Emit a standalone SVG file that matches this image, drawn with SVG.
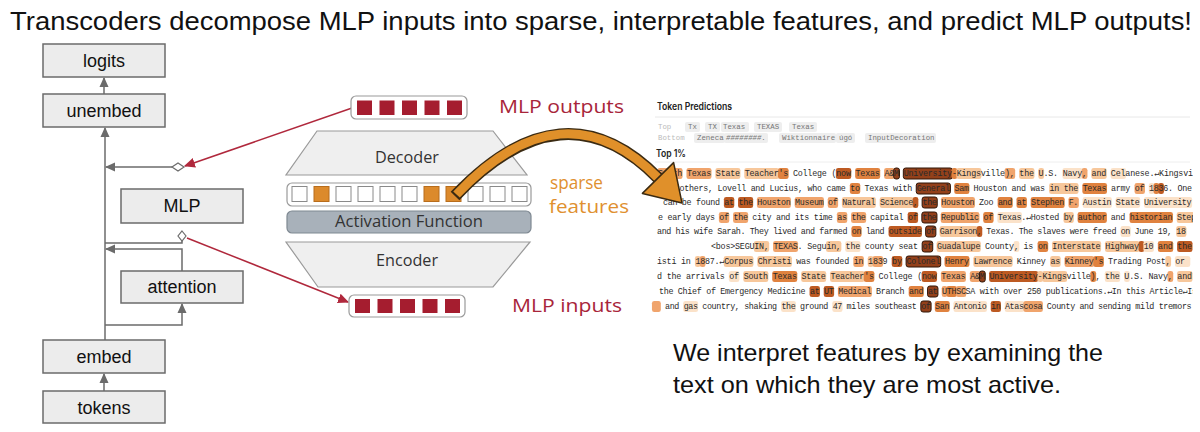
<svg xmlns="http://www.w3.org/2000/svg" width="1200" height="432" viewBox="0 0 1200 432">
<style>
.box{fill:#ececec;stroke:#6b6b6b;stroke-width:1.5}
.lbl{font-family:"Liberation Sans",Arial,sans-serif;font-size:18px;fill:#111;text-anchor:middle}
.con{fill:none;stroke:#6b6b6b;stroke-width:1.5}
.red{fill:none;stroke:#b0283c;stroke-width:1.5}
.dia{fill:#fff;stroke:#6b6b6b;stroke-width:1.2}
.vec{fill:#fff;stroke:#9a9a9a;stroke-width:1.2}
.sq{fill:#a51d2f}
.ws{fill:#fff;stroke:#8a8a8a;stroke-width:1}
.os{fill:#dc8a2c;stroke:#b86d1c;stroke-width:1}
.trap{fill:#efefef;stroke:#9a9a9a;stroke-width:1.2}
.tc{font-family:"Open Sans","Liberation Sans",sans-serif;font-size:16px;fill:#333;text-anchor:middle}
.redt{font-family:"Open Sans","Liberation Sans",sans-serif;font-size:19px;fill:#a8253a}
.ort{font-family:"Open Sans","Liberation Sans",sans-serif;font-size:19px;fill:#e0902f}
.mono{font-family:"Liberation Mono","DejaVu Sans Mono",monospace;font-size:8.4px;fill:#2a2a2a}
.sm{font-family:"Liberation Mono","DejaVu Sans Mono",monospace;font-size:7.4px;fill:#777}
.smg{font-family:"Liberation Mono","DejaVu Sans Mono",monospace;font-size:7.4px;fill:#bbb}
.pill{fill:#eeeeee}
.hd{font-family:Inter,"Liberation Sans",sans-serif;font-size:10px;font-weight:600;fill:#222}
.big{font-family:"Liberation Sans",Arial,sans-serif;font-size:24px;fill:#111}
.h1{fill:#fbe2c9}.h2{fill:#f7c79b}.h3{fill:#f0a46c}.h4{fill:#e0823f}.h5{fill:#bd5a22}
.h6{fill:#93401a;stroke:#2e1406;stroke-width:1;vector-effect:non-scaling-stroke}
</style>
<defs>
<marker id="ag" viewBox="0 0 10 10" refX="9" refY="5" markerWidth="10" markerHeight="10" markerUnits="userSpaceOnUse" orient="auto"><path d="M0,0.5 L10,5 L0,9.5 z" fill="#6b6b6b"/></marker>
<marker id="ar" viewBox="0 0 10 10" refX="9" refY="5" markerWidth="11" markerHeight="11" markerUnits="userSpaceOnUse" orient="auto"><path d="M0,0.5 L10,5 L0,9.5 z" fill="#b0283c"/></marker>
<clipPath id="pc"><rect x="645" y="95" width="548" height="225"/></clipPath>
</defs>

<text x="10" y="30" font-family="Liberation Sans, Arial, sans-serif" font-size="26" fill="#111" textLength="1182" lengthAdjust="spacingAndGlyphs">Transcoders decompose MLP inputs into sparse, interpretable features, and predict MLP outputs!</text>

<g id="connectors">
<line class="con" x1="104" y1="391" x2="104" y2="374" marker-end="url(#ag)"/>
<line class="con" x1="104" y1="94" x2="104" y2="78" marker-end="url(#ag)"/>
<line class="con" x1="105" y1="340" x2="105" y2="128" marker-end="url(#ag)"/>
<line class="con" x1="172" y1="167" x2="106" y2="167" marker-end="url(#ag)"/>
<path class="con" d="M105,243 H182 V241"/>
<path class="con" d="M182,271 V249 H106" marker-end="url(#ag)"/>
<path class="con" d="M105,325 H182 V304" marker-end="url(#ag)"/>
<line class="red" x1="352" y1="108" x2="185" y2="166" marker-end="url(#ar)"/>
<line class="red" x1="187" y1="238" x2="348" y2="302" marker-end="url(#ar)"/>
<path class="dia" d="M172,167 L178,163 L184,167 L178,171 z"/>
<path class="dia" d="M182,231 L186,236 L182,241 L178,236 z"/>
</g>

<g id="logits"><rect class="box" x="43" y="44" width="122" height="33"/><text class="lbl" x="104" y="67">logits</text></g>
<g id="unembed"><rect class="box" x="43" y="94" width="122" height="33"/><text class="lbl" x="104" y="117">unembed</text></g>
<g id="mlp"><rect class="box" x="121" y="189" width="122" height="34"/><text class="lbl" x="182" y="212">MLP</text></g>
<g id="attention"><rect class="box" x="121" y="271" width="122" height="32"/><text class="lbl" x="182" y="293">attention</text></g>
<g id="embed"><rect class="box" x="43" y="340" width="122" height="33"/><text class="lbl" x="104" y="363">embed</text></g>
<g id="tokens"><rect class="box" x="43" y="391" width="122" height="32"/><text class="lbl" x="104" y="414">tokens</text></g>

<g id="mlp-outputs">
<rect class="vec" x="351" y="96" width="116" height="23" rx="5"/>
<rect class="sq" x="357" y="100.5" width="15" height="14.5"/><rect class="sq" x="379.5" y="100.5" width="15" height="14.5"/><rect class="sq" x="402" y="100.5" width="15" height="14.5"/><rect class="sq" x="424.5" y="100.5" width="15" height="14.5"/><rect class="sq" x="447" y="100.5" width="15" height="14.5"/>
<text class="redt" x="499" y="113" textLength="125" lengthAdjust="spacingAndGlyphs">MLP outputs</text>
</g>
<g id="decoder">
<polygon class="trap" points="317,131 493,131 527,175 286,175"/>
<text class="tc" x="407" y="163" textLength="64" lengthAdjust="spacingAndGlyphs">Decoder</text>
</g>
<g id="features">
<rect class="vec" x="287" y="183" width="244" height="23" rx="5"/>
<rect class="ws" x="292" y="186.5" width="15" height="15"/><rect class="os" x="314" y="186.5" width="15" height="15"/><rect class="ws" x="336" y="186.5" width="15" height="15"/><rect class="ws" x="358" y="186.5" width="15" height="15"/><rect class="ws" x="380" y="186.5" width="15" height="15"/><rect class="ws" x="402" y="186.5" width="15" height="15"/><rect class="os" x="424" y="186.5" width="15" height="15"/><rect class="os" x="446" y="186.5" width="15" height="15"/><rect class="ws" x="468" y="186.5" width="15" height="15"/><rect class="ws" x="490" y="186.5" width="15" height="15"/><rect class="ws" x="512" y="186.5" width="15" height="15"/>
<text class="ort" x="550" y="189" textLength="53" lengthAdjust="spacingAndGlyphs">sparse</text>
<text class="ort" x="549" y="213" textLength="80" lengthAdjust="spacingAndGlyphs">features</text>
</g>
<g id="activation">
<rect x="287" y="211" width="244" height="22" rx="5" fill="#a8b1ba" stroke="#7f8992" stroke-width="1.2"/>
<text class="tc" x="409" y="227" font-size="15" textLength="148" lengthAdjust="spacingAndGlyphs">Activation Function</text>
</g>
<g id="encoder">
<polygon class="trap" points="286,242 530,242 493,287 318,287"/>
<text class="tc" x="407" y="266" textLength="62" lengthAdjust="spacingAndGlyphs">Encoder</text>
</g>
<g id="mlp-inputs">
<rect class="vec" x="349" y="295" width="116" height="22" rx="5"/>
<rect class="sq" x="355" y="299" width="15" height="14"/><rect class="sq" x="377.5" y="299" width="15" height="14"/><rect class="sq" x="400" y="299" width="15" height="14"/><rect class="sq" x="422.5" y="299" width="15" height="14"/><rect class="sq" x="445" y="299" width="15" height="14"/>
<text class="redt" x="512" y="312" textLength="110" lengthAdjust="spacingAndGlyphs">MLP inputs</text>
</g>

<g id="token-panel" clip-path="url(#pc)">
<text class="hd" x="657" y="110" textLength="75" lengthAdjust="spacingAndGlyphs">Token Predictions</text>
<line x1="655" y1="117" x2="1190" y2="117" stroke="#e8e8e8" stroke-width="1"/>
<text class="smg" x="658" y="129">Top</text>
<rect class="pill" x="685" y="122" width="15" height="10" rx="2"/><text class="sm" x="688" y="129">Tx</text>
<rect class="pill" x="705" y="122" width="15" height="10" rx="2"/><text class="sm" x="708" y="129">TX</text>
<rect class="pill" x="721" y="122" width="28" height="10" rx="2"/><text class="sm" x="723" y="129">Texas</text>
<rect class="pill" x="754" y="122" width="28" height="10" rx="2"/><text class="sm" x="757" y="129">TEXAS</text>
<rect class="pill" x="789" y="122" width="28" height="10" rx="2"/><text class="sm" x="792" y="129">Texas</text>
<text class="smg" x="658" y="140">Bottom</text>
<rect class="pill" x="694" y="133" width="31" height="10" rx="2"/><text class="sm" x="697" y="140">Zeneca</text>
<rect class="pill" x="724" y="133" width="44" height="10" rx="2"/><text class="sm" x="726" y="140" font-style="italic">########.</text>
<rect class="pill" x="779" y="133" width="57" height="10" rx="2"/><text class="sm" x="782" y="140">Wiktionnaire</text>
<rect class="pill" x="836" y="133" width="19" height="10" rx="2"/><text class="sm" x="839" y="140">úgó</text>
<rect class="pill" x="865" y="133" width="71" height="10" rx="2"/><text class="sm" x="868" y="140">InputDecoration</text>
<text class="hd" x="656" y="157" textLength="30" lengthAdjust="spacingAndGlyphs">Top 1%</text>
<line x1="655" y1="162" x2="1190" y2="162" stroke="#eeeeee" stroke-width="1"/>

<g transform="translate(658,176) scale(4.82,1)">
<rect class="h3" x="-0.1" y="-8" width="5.2" height="11" rx="0.5" ry="2.2"/><rect class="h3" x="5.9" y="-8" width="5.2" height="11" rx="0.5" ry="2.2"/><rect class="h2" x="11.9" y="-8" width="5.2" height="11" rx="0.5" ry="2.2"/><rect class="h2" x="17.9" y="-8" width="7.2" height="11" rx="0.5" ry="2.2"/><rect class="h4" x="24.9" y="-8" width="2.2" height="11" rx="0.5" ry="2.2"/><rect class="h5" x="36.9" y="-8" width="3.2" height="11" rx="0.5" ry="2.2"/><rect class="h4" x="40.9" y="-8" width="5.2" height="11" rx="0.5" ry="2.2"/><rect class="h3" x="46.9" y="-8" width="2.2" height="11" rx="0.5" ry="2.2"/><rect class="h6" x="48.9" y="-8" width="1.2" height="11" rx="0.5" ry="2.2"/><rect class="h6" x="50.9" y="-8" width="10.2" height="11" rx="0.5" ry="2.2"/><rect class="h4" x="60.9" y="-8" width="1.2" height="11" rx="0.5" ry="2.2"/><rect class="h2" x="61.9" y="-8" width="5.2" height="11" rx="0.5" ry="2.2"/><rect class="h3" x="71.9" y="-8" width="2.2" height="11" rx="0.5" ry="2.2"/><rect class="h2" x="74.9" y="-8" width="3.2" height="11" rx="0.5" ry="2.2"/><rect class="h2" x="78.9" y="-8" width="1.2" height="11" rx="0.5" ry="2.2"/><rect class="h1" x="83.9" y="-8" width="4.2" height="11" rx="0.5" ry="2.2"/><rect class="h3" x="87.9" y="-8" width="1.2" height="11" rx="0.5" ry="2.2"/><rect class="h2" x="89.9" y="-8" width="3.2" height="11" rx="0.5" ry="2.2"/><rect class="h1" x="93.9" y="-8" width="3.2" height="11" rx="0.5" ry="2.2"/>
</g>
<text class="mono" x="658" y="176" textLength="535" lengthAdjust="spacing">South Texas State Teacher's College (now Texas A&amp;M University-Kingsville), the U.S. Navy, and Celanese.↵Kingsvi</text>

<g transform="translate(670,191) scale(4.745,1)">
<rect class="h4" x="37.9" y="-8" width="2.2" height="11" rx="0.5" ry="2.2"/><rect class="h6" x="51.9" y="-8" width="7.2" height="11" rx="0.5" ry="2.2"/><rect class="h4" x="59.9" y="-8" width="3.2" height="11" rx="0.5" ry="2.2"/><rect class="h2" x="79.9" y="-8" width="6.2" height="11" rx="0.5" ry="2.2"/><rect class="h4" x="86.9" y="-8" width="5.2" height="11" rx="0.5" ry="2.2"/><rect class="h3" x="97.9" y="-8" width="2.2" height="11" rx="0.5" ry="2.2"/><rect class="h1" x="100.9" y="-8" width="1.2" height="11" rx="0.5" ry="2.2"/><rect class="h4" x="101.9" y="-8" width="1.2" height="11" rx="0.5" ry="2.2"/><rect class="h5" x="102.9" y="-8" width="1.2" height="11" rx="0.5" ry="2.2"/>
</g>
<text class="mono" x="670" y="191" textLength="522" lengthAdjust="spacing">brothers, Lovell and Lucius, who came to Texas with General Sam Houston and was in the Texas army of 1836. One</text>

<g transform="translate(663,205) scale(4.72,1)">
<rect class="h5" x="12.9" y="-8" width="2.2" height="11" rx="0.5" ry="2.2"/><rect class="h5" x="15.9" y="-8" width="3.2" height="11" rx="0.5" ry="2.2"/><rect class="h3" x="19.9" y="-8" width="7.2" height="11" rx="0.5" ry="2.2"/><rect class="h3" x="27.9" y="-8" width="6.2" height="11" rx="0.5" ry="2.2"/><rect class="h3" x="34.9" y="-8" width="2.2" height="11" rx="0.5" ry="2.2"/><rect class="h2" x="37.9" y="-8" width="7.2" height="11" rx="0.5" ry="2.2"/><rect class="h2" x="45.9" y="-8" width="7.2" height="11" rx="0.5" ry="2.2"/><rect class="h5" x="52.9" y="-8" width="1.2" height="11" rx="0.5" ry="2.2"/><rect class="h6" x="54.9" y="-8" width="3.2" height="11" rx="0.5" ry="2.2"/><rect class="h3" x="58.9" y="-8" width="7.2" height="11" rx="0.5" ry="2.2"/><rect class="h4" x="70.9" y="-8" width="3.2" height="11" rx="0.5" ry="2.2"/><rect class="h4" x="74.9" y="-8" width="2.2" height="11" rx="0.5" ry="2.2"/><rect class="h4" x="77.9" y="-8" width="7.2" height="11" rx="0.5" ry="2.2"/><rect class="h3" x="85.9" y="-8" width="2.2" height="11" rx="0.5" ry="2.2"/><rect class="h1" x="88.9" y="-8" width="6.2" height="11" rx="0.5" ry="2.2"/><rect class="h1" x="95.9" y="-8" width="5.2" height="11" rx="0.5" ry="2.2"/><rect class="h1" x="101.9" y="-8" width="10.2" height="11" rx="0.5" ry="2.2"/>
</g>
<text class="mono" x="663" y="205" textLength="528.6" lengthAdjust="spacing">can be found at the Houston Museum of Natural Science, the Houston Zoo and at Stephen F. Austin State University</text>

<g transform="translate(658,220) scale(4.72,1)">
<rect class="h3" x="12.9" y="-8" width="2.2" height="11" rx="0.5" ry="2.2"/><rect class="h3" x="15.9" y="-8" width="3.2" height="11" rx="0.5" ry="2.2"/><rect class="h3" x="37.9" y="-8" width="2.2" height="11" rx="0.5" ry="2.2"/><rect class="h3" x="40.9" y="-8" width="3.2" height="11" rx="0.5" ry="2.2"/><rect class="h5" x="52.9" y="-8" width="2.2" height="11" rx="0.5" ry="2.2"/><rect class="h6" x="55.9" y="-8" width="3.2" height="11" rx="0.5" ry="2.2"/><rect class="h3" x="59.9" y="-8" width="8.2" height="11" rx="0.5" ry="2.2"/><rect class="h4" x="68.9" y="-8" width="2.2" height="11" rx="0.5" ry="2.2"/><rect class="h1" x="71.9" y="-8" width="5.2" height="11" rx="0.5" ry="2.2"/><rect class="h2" x="85.9" y="-8" width="2.2" height="11" rx="0.5" ry="2.2"/><rect class="h4" x="88.9" y="-8" width="6.2" height="11" rx="0.5" ry="2.2"/><rect class="h4" x="99.9" y="-8" width="9.2" height="11" rx="0.5" ry="2.2"/><rect class="h2" x="109.9" y="-8" width="4.2" height="11" rx="0.5" ry="2.2"/>
</g>
<text class="mono" x="658" y="220" textLength="538.1" lengthAdjust="spacing">e early days of the city and its time as the capital of the Republic of Texas.↵Hosted by author and historian Step</text>

<g transform="translate(657,234) scale(4.64,1)">
<rect class="h4" x="41.9" y="-8" width="2.2" height="11" rx="0.5" ry="2.2"/><rect class="h5" x="49.9" y="-8" width="7.2" height="11" rx="0.5" ry="2.2"/><rect class="h6" x="57.9" y="-8" width="2.2" height="11" rx="0.5" ry="2.2"/><rect class="h2" x="60.9" y="-8" width="8.2" height="11" rx="0.5" ry="2.2"/><rect class="h5" x="68.9" y="-8" width="1.2" height="11" rx="0.5" ry="2.2"/><rect class="h1" x="99.9" y="-8" width="2.2" height="11" rx="0.5" ry="2.2"/><rect class="h2" x="111.9" y="-8" width="2.2" height="11" rx="0.5" ry="2.2"/>
</g>
<text class="mono" x="657" y="234" textLength="529" lengthAdjust="spacing">and his wife Sarah. They lived and farmed on land outside of Garrison, Texas. The slaves were freed on June 19, 18</text>

<g transform="translate(711,249) scale(4.81,1)">
<rect class="h2" x="8.9" y="-8" width="3.2" height="11" rx="0.5" ry="2.2"/><rect class="h3" x="12.9" y="-8" width="5.2" height="11" rx="0.5" ry="2.2"/><rect class="h2" x="23.9" y="-8" width="3.2" height="11" rx="0.5" ry="2.2"/><rect class="h1" x="27.9" y="-8" width="3.2" height="11" rx="0.5" ry="2.2"/><rect class="h6" x="43.9" y="-8" width="2.2" height="11" rx="0.5" ry="2.2"/><rect class="h2" x="46.9" y="-8" width="9.2" height="11" rx="0.5" ry="2.2"/><rect class="h1" x="62.9" y="-8" width="1.2" height="11" rx="0.5" ry="2.2"/><rect class="h4" x="67.9" y="-8" width="2.2" height="11" rx="0.5" ry="2.2"/><rect class="h2" x="70.9" y="-8" width="10.2" height="11" rx="0.5" ry="2.2"/><rect class="h2" x="81.9" y="-8" width="7.2" height="11" rx="0.5" ry="2.2"/><rect class="h5" x="88.9" y="-8" width="1.2" height="11" rx="0.5" ry="2.2"/><rect class="h1" x="89.9" y="-8" width="2.2" height="11" rx="0.5" ry="2.2"/><rect class="h4" x="92.9" y="-8" width="3.2" height="11" rx="0.5" ry="2.2"/><rect class="h5" x="96.9" y="-8" width="3.2" height="11" rx="0.5" ry="2.2"/>
</g>
<text class="mono" x="711" y="249" textLength="481" lengthAdjust="spacing">&lt;bos&gt;SEGUIN, TEXAS. Seguin, the county seat of Guadalupe County, is on Interstate Highway 10 and the</text>

<g transform="translate(657,264) scale(4.8,1)">
<rect class="h2" x="7.9" y="-8" width="1.2" height="11" rx="0.5" ry="2.2"/><rect class="h3" x="8.9" y="-8" width="1.2" height="11" rx="0.5" ry="2.2"/><rect class="h2" x="13.9" y="-8" width="6.2" height="11" rx="0.5" ry="2.2"/><rect class="h2" x="20.9" y="-8" width="7.2" height="11" rx="0.5" ry="2.2"/><rect class="h3" x="40.9" y="-8" width="2.2" height="11" rx="0.5" ry="2.2"/><rect class="h2" x="43.9" y="-8" width="1.2" height="11" rx="0.5" ry="2.2"/><rect class="h3" x="44.9" y="-8" width="2.2" height="11" rx="0.5" ry="2.2"/><rect class="h5" x="48.9" y="-8" width="2.2" height="11" rx="0.5" ry="2.2"/><rect class="h6" x="51.9" y="-8" width="7.2" height="11" rx="0.5" ry="2.2"/><rect class="h4" x="59.9" y="-8" width="5.2" height="11" rx="0.5" ry="2.2"/><rect class="h2" x="65.9" y="-8" width="8.2" height="11" rx="0.5" ry="2.2"/><rect class="h2" x="81.9" y="-8" width="2.2" height="11" rx="0.5" ry="2.2"/><rect class="h3" x="84.9" y="-8" width="6.2" height="11" rx="0.5" ry="2.2"/><rect class="h4" x="90.9" y="-8" width="2.2" height="11" rx="0.5" ry="2.2"/><rect class="h2" x="105.9" y="-8" width="1.2" height="11" rx="0.5" ry="2.2"/><rect class="h1" x="107.9" y="-8" width="3.2" height="11" rx="0.5" ry="2.2"/>
</g>
<text class="mono" x="657" y="264" textLength="528" lengthAdjust="spacing">isti in 1887.↵Corpus Christi was founded in 1839 by Colonel Henry Lawrence Kinney as Kinney's Trading Post, or</text>

<g transform="translate(657,279) scale(4.82,1)">
<rect class="h1" x="14.9" y="-8" width="2.2" height="11" rx="0.5" ry="2.2"/><rect class="h2" x="17.9" y="-8" width="5.2" height="11" rx="0.5" ry="2.2"/><rect class="h4" x="23.9" y="-8" width="5.2" height="11" rx="0.5" ry="2.2"/><rect class="h2" x="29.9" y="-8" width="5.2" height="11" rx="0.5" ry="2.2"/><rect class="h2" x="35.9" y="-8" width="7.2" height="11" rx="0.5" ry="2.2"/><rect class="h4" x="42.9" y="-8" width="2.2" height="11" rx="0.5" ry="2.2"/><rect class="h5" x="54.9" y="-8" width="3.2" height="11" rx="0.5" ry="2.2"/><rect class="h3" x="58.9" y="-8" width="5.2" height="11" rx="0.5" ry="2.2"/><rect class="h3" x="64.9" y="-8" width="2.2" height="11" rx="0.5" ry="2.2"/><rect class="h6" x="66.9" y="-8" width="1.2" height="11" rx="0.5" ry="2.2"/><rect class="h5" x="68.9" y="-8" width="10.2" height="11" rx="0.5" ry="2.2"/><rect class="h2" x="78.9" y="-8" width="1.2" height="11" rx="0.5" ry="2.2"/><rect class="h2" x="79.9" y="-8" width="5.2" height="11" rx="0.5" ry="2.2"/><rect class="h4" x="89.9" y="-8" width="1.2" height="11" rx="0.5" ry="2.2"/><rect class="h1" x="92.9" y="-8" width="3.2" height="11" rx="0.5" ry="2.2"/><rect class="h1" x="96.9" y="-8" width="1.2" height="11" rx="0.5" ry="2.2"/><rect class="h3" x="105.9" y="-8" width="1.2" height="11" rx="0.5" ry="2.2"/><rect class="h2" x="107.9" y="-8" width="3.2" height="11" rx="0.5" ry="2.2"/>
</g>
<text class="mono" x="657" y="279" textLength="535" lengthAdjust="spacing">d the arrivals of South Texas State Teacher's College (now Texas A&amp;M University-Kingsville), the U.S. Navy, and</text>

<g transform="translate(659,294) scale(4.72,1)">
<rect class="h5" x="31.9" y="-8" width="2.2" height="11" rx="0.5" ry="2.2"/><rect class="h5" x="34.9" y="-8" width="2.2" height="11" rx="0.5" ry="2.2"/><rect class="h3" x="37.9" y="-8" width="7.2" height="11" rx="0.5" ry="2.2"/><rect class="h4" x="52.9" y="-8" width="3.2" height="11" rx="0.5" ry="2.2"/><rect class="h6" x="56.9" y="-8" width="2.2" height="11" rx="0.5" ry="2.2"/><rect class="h3" x="59.9" y="-8" width="1.2" height="11" rx="0.5" ry="2.2"/><rect class="h4" x="60.9" y="-8" width="2.2" height="11" rx="0.5" ry="2.2"/><rect class="h3" x="62.9" y="-8" width="2.2" height="11" rx="0.5" ry="2.2"/>
</g>
<text class="mono" x="659" y="294" textLength="538.1" lengthAdjust="spacing">the Chief of Emergency Medicine at UT Medical Branch and at UTHSCSA with over 250 publications.↵In this Article↵Is</text>

<g transform="translate(665,309) scale(4.66,1)">
<rect class="h3" x="-2.8" y="-8" width="1.9" height="11" rx="0.5" ry="2.2"/><rect class="h1" x="3.9" y="-8" width="3.2" height="11" rx="0.5" ry="2.2"/><rect class="h1" x="24.9" y="-8" width="3.2" height="11" rx="0.5" ry="2.2"/><rect class="h1" x="35.9" y="-8" width="2.2" height="11" rx="0.5" ry="2.2"/><rect class="h6" x="54.9" y="-8" width="2.2" height="11" rx="0.5" ry="2.2"/><rect class="h4" x="57.9" y="-8" width="3.2" height="11" rx="0.5" ry="2.2"/><rect class="h1" x="61.9" y="-8" width="7.2" height="11" rx="0.5" ry="2.2"/><rect class="h5" x="69.9" y="-8" width="2.2" height="11" rx="0.5" ry="2.2"/><rect class="h1" x="72.9" y="-8" width="4.2" height="11" rx="0.5" ry="2.2"/><rect class="h3" x="76.9" y="-8" width="4.2" height="11" rx="0.5" ry="2.2"/>
</g>
<text class="mono" x="665" y="309" textLength="526.6" lengthAdjust="spacing">and gas country, shaking the ground 47 miles southeast of San Antonio in Atascosa County and sending mild tremors</text>
</g>

<g id="feature-arrow">
<path d="M455,196 Q563,82 658,178" fill="none" stroke="#3a2a12" stroke-width="12"/>
<path d="M456.5,194.5 Q563,82 658,178" fill="none" stroke="#e0902a" stroke-width="9"/>
<polygon points="682,203 642.4,193.4 673.6,162.6" fill="#e0902a" stroke="#3a2a12" stroke-width="1.5" stroke-linejoin="round"/>
</g>

<g id="caption">
<text class="big" x="673" y="361" textLength="430" lengthAdjust="spacingAndGlyphs">We interpret features by examining the</text>
<text class="big" x="673" y="393" textLength="388" lengthAdjust="spacingAndGlyphs">text on which they are most active.</text>
</g>
</svg>
